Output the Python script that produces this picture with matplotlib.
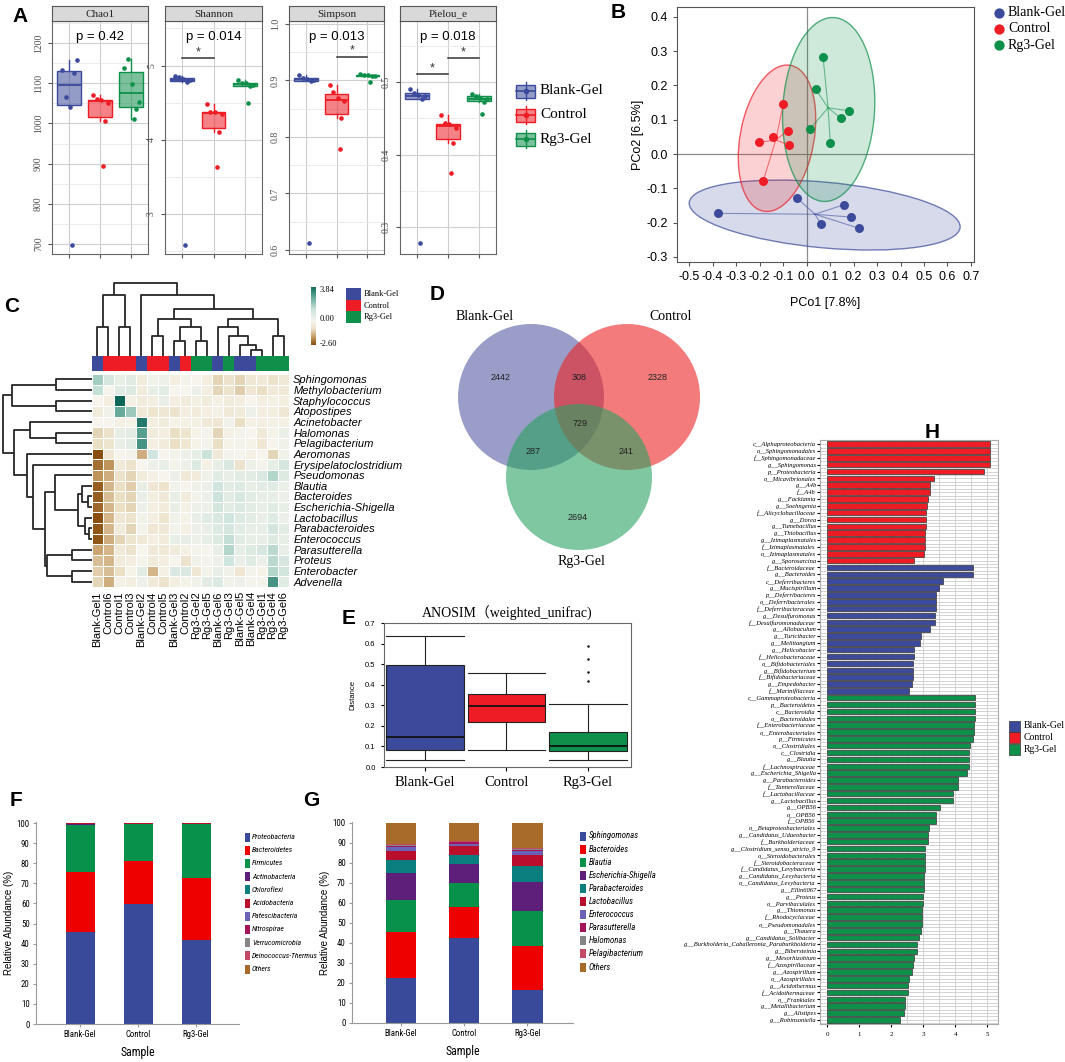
import numpy as np
import matplotlib
matplotlib.use('Agg')
import matplotlib.pyplot as plt
from matplotlib.patches import Ellipse, Circle, Rectangle
from matplotlib.colors import LinearSegmentedColormap, ListedColormap, TwoSlopeNorm, to_rgba
from matplotlib.ticker import MultipleLocator, FormatStrFormatter, FuncFormatter

plt.rcParams['font.family'] = ['Liberation Sans', 'DejaVu Sans']
SANS = ['Liberation Sans', 'DejaVu Sans']
SERIF = ['Liberation Serif', 'DejaVu Serif']
NARROW = ['Liberation Sans Narrow', 'DejaVu Sans Condensed', 'Roboto Condensed', 'Liberation Sans']

W, H = 1065, 1062
fig = plt.figure(figsize=(W / 100, H / 100), dpi=100)


def px_axes(x0, y0, x1, y1):
    return fig.add_axes([x0 / W, 1 - y1 / H, (x1 - x0) / W, (y1 - y0) / H])


groups = ['Blank-Gel', 'Control', 'Rg3-Gel']
gcol = ['#3b4a9a', '#ee1c24', '#0e8f4a']

# ---------------- data ----------------
# A: alpha diversity (6 samples per group)
alpha_names = ['Chao1', 'Shannon', 'Simpson', 'Pielou_e']
chao1 = [[1133, 1065, 1040, 1159, 1126, 698],
         [1072, 1060, 1058, 1052, 1005, 894],
         [1137, 1160, 1098, 1054, 1037, 1010]]
shannon = [[4.86, 4.84, 4.82, 4.80, 4.78, 2.58],
           [4.48, 4.38, 4.37, 4.34, 4.10, 3.63],
           [4.80, 4.77, 4.76, 4.74, 4.72, 4.50]]
simpson = [[0.910, 0.905, 0.903, 0.901, 0.899, 0.612],
           [0.891, 0.879, 0.868, 0.864, 0.833, 0.778],
           [0.912, 0.910, 0.909, 0.908, 0.907, 0.898]]
pielou = [[0.490, 0.485, 0.482, 0.480, 0.476, 0.278],
          [0.455, 0.443, 0.442, 0.437, 0.416, 0.375],
          [0.484, 0.481, 0.478, 0.476, 0.473, 0.456]]
alpha_p = ['p = 0.42', 'p = 0.014', 'p = 0.013', 'p = 0.018']
alpha_sig = [[], [(1, 2, 5.10)], [(2, 3, 0.942)], [(1, 2, 0.511), (2, 3, 0.533)]]
jitter = [-0.22, -0.1, 0.04, 0.26, 0.16, 0.1]

# B: PCoA scores and the group ellipses (centre, width, height, angle)
pcoa_x = [[-0.378, -0.040, 0.060, 0.158, 0.188, 0.225],
          [-0.099, -0.202, -0.145, -0.080, -0.076, -0.185],
          [0.070, 0.038, 0.182, 0.145, 0.013, 0.101]]
pcoa_y = [[-0.173, -0.129, -0.203, -0.148, -0.184, -0.217],
          [0.147, 0.034, 0.051, 0.068, 0.026, -0.079],
          [0.284, 0.190, 0.126, 0.105, 0.072, 0.032]]
ell_center = [(0.077, -0.178), (-0.126, 0.046), (0.094, 0.130)]
ell_width = [1.156, 0.445, 0.539]
ell_height = [0.192, 0.306, 0.390]
ell_angle = [-3.5, 67.5, 82.4]

# C: heatmap
samples = ['Blank-Gel1', 'Control6', 'Control1', 'Control3', 'Blank-Gel2', 'Control4', 'Control5',
           'Blank-Gel3', 'Control2', 'Rg3-Gel2', 'Rg3-Gel5', 'Blank-Gel6', 'Rg3-Gel3', 'Blank-Gel5',
           'Blank-Gel4', 'Rg3-Gel1', 'Rg3-Gel4', 'Rg3-Gel6']
genera = ['Sphingomonas', 'Methylobacterium', 'Staphylococcus', 'Atopostipes', 'Acinetobacter',
          'Halomonas', 'Pelagibacterium', 'Aeromonas', 'Erysipelatoclostridium', 'Pseudomonas',
          'Blautia', 'Bacteroides', 'Escherichia-Shigella', 'Lactobacillus', 'Parabacteroides',
          'Enterococcus', 'Parasutterella', 'Proteus', 'Enterobacter', 'Advenella']
heat_values = [
    [1.8, 1.0, 0.5, 0.7, -0.4, 0.2, 0.3, -0.3, 0.1, 0.0, -0.3, -1.0, -0.8, -1.0, -0.6, -0.5, -0.8, -0.5],
    [1.4, 0.0, 0.7, 0.8, -0.4, 0.5, 0.6, 0.0, 0.0, 0.3, -0.3, -1.0, -0.8, -1.1, -0.6, -0.9, -0.5, -0.5],
    [0.0, -0.3, 3.84, -0.2, -0.4, -0.3, 0.4, -0.3, -0.4, -0.2, -0.4, -0.2, -0.4, -0.3, 0.0, -0.3, -0.2, -0.3],
    [-0.4, 0.2, 2.6, 1.9, -0.5, -0.7, -0.6, -0.8, -0.3, -0.4, -0.3, -0.2, -0.5, -0.4, 0.3, -0.3, -0.3, -0.6],
    [0.0, 0.0, -0.2, -0.1, 3.5, -0.3, -0.4, -0.1, -0.2, -0.2, -0.5, -0.6, 0.2, -0.9, -0.2, -0.3, -0.2, -0.2],
    [-1.0, -0.8, 0.5, 0.6, 2.8, -0.4, -0.3, -0.9, -0.7, -0.1, 0.1, -1.0, -0.2, 0.1, 0.0, -0.5, -0.1, 0.4],
    [-0.9, -0.7, 0.4, 0.6, 3.0, -0.3, -0.4, -0.9, -0.6, -0.1, 0.1, -0.9, -0.1, 0.1, -0.1, -0.6, 0.0, 0.2],
    [-2.6, -0.6, 0.0, 0.1, -1.5, 1.2, 0.0, 0.1, 0.3, 0.5, 1.3, -0.5, 0.1, 0.0, -0.2, 0.0, -1.0, 0.2],
    [-2.2, -1.8, -0.5, -0.8, 0.0, 0.3, 0.4, 0.1, 0.3, 0.8, -0.2, 0.5, 0.9, -0.8, 0.3, 0.1, 0.5, 1.0],
    [-1.8, -1.5, -0.8, -1.0, -0.4, -0.2, 0.0, 0.3, -0.5, -0.4, 0.2, 0.7, 0.4, 0.6, 0.6, 0.9, 1.6, 0.8],
    [-2.4, -1.4, -0.9, -1.1, 0.5, -0.6, -0.8, 0.2, 0.0, 0.2, 0.3, 1.2, 0.6, 0.8, 0.5, 0.6, 0.7, 0.4],
    [-2.4, -1.3, -0.9, -1.0, 0.4, -0.3, -0.5, 0.5, -0.4, 0.1, 0.3, 1.3, 0.6, 1.0, 0.6, 0.5, 0.5, 0.3],
    [-2.3, -1.4, -0.9, -1.0, 0.3, -0.3, -0.4, 0.4, -0.2, 0.3, 0.3, 1.1, 0.6, 0.9, 0.6, 0.5, 0.7, 0.5],
    [-2.6, -1.4, -0.6, -0.8, 0.2, -0.3, -0.7, 0.2, -0.1, 0.4, 0.6, 0.9, 1.2, 0.8, 0.6, 0.4, 0.7, 0.3],
    [-2.5, -1.4, -0.4, -1.0, 0.1, -0.6, -0.5, 0.1, -0.2, 0.3, 0.4, 0.8, 1.0, 0.6, 0.5, 0.5, 1.1, 0.6],
    [-2.5, -1.5, -1.0, -0.7, -0.5, -0.3, -0.4, 0.5, 0.4, 0.3, 0.5, 0.8, 1.4, 0.6, 0.5, 0.4, 0.8, 0.5],
    [-1.6, -1.4, -0.5, -0.8, 0.0, -0.5, -0.5, -0.4, -0.2, 0.1, 0.0, 0.5, 1.6, 0.5, 0.8, 1.0, 1.5, 0.4],
    [-1.3, -1.4, -0.4, -0.3, 0.1, -0.4, -0.3, 0.0, -0.8, 0.2, 0.1, 0.3, 1.2, 0.4, 0.7, 0.3, 1.5, 1.0],
    [-1.1, -1.3, -0.9, -0.1, 0.6, -1.4, -0.2, 0.9, 0.9, -0.6, 0.1, 0.5, 0.2, -0.6, 0.1, -0.1, 1.6, 1.1],
    [-1.0, -1.5, -0.2, -0.3, 0.3, -0.5, -0.8, -0.3, -0.1, 0.2, 0.6, 0.8, 0.2, 0.3, 0.1, 0.1, 3.0, 0.7],
]
# dendrograms: (left, right, height), leaves are column / row indices
col_tree = (((0, 1, 0.39), (2, 3, 0.39), 0.83),
            (4, (((5, 6, 0.27), ((7, 8, 0.21), (9, 10, 0.21), 0.39), 0.50),
                 ((11, (12, (13, (14, 15, 0.08), 0.15), 0.27), 0.39), (16, 17, 0.27), 0.50), 0.64), 0.83),
            1.0)
row_tree = (((0, 1, 0.40), (2, 3, 0.40), 0.90),
            ((4, (5, 6, 0.40), 0.70),
             (7, (8, ((9, ((10, (11, 12, 0.045), 0.11), (13, (14, 15, 0.035), 0.08), 0.16), 0.42),
                      ((16, 17, 0.23), (18, 19, 0.23), 0.51), 0.53), 0.66), 0.73), 0.88),
            1.0)

# D: Venn counts
venn_counts = {'Blank-Gel': 2442, 'Control': 2328, 'Rg3-Gel': 2694,
               'Blank-Gel&Control': 308, 'Blank-Gel&Rg3-Gel': 287, 'Control&Rg3-Gel': 241, 'all': 729}

# E: ANOSIM box statistics
anosim_q = {'Blank-Gel': [0.036, 0.085, 0.147, 0.494, 0.638],
            'Control': [0.085, 0.221, 0.295, 0.354, 0.458],
            'Rg3-Gel': [0.033, 0.079, 0.103, 0.169, 0.306]}
anosim_fliers = {'Blank-Gel': [], 'Control': [], 'Rg3-Gel': [0.586, 0.524, 0.462, 0.417]}

# F: phylum composition (%)
phyla = ['Proteobacteria', 'Bacteroidetes', 'Firmicutes', 'Actinobacteria', 'Chloroflexi', 'Acidobacteria',
         'Patescibacteria', 'Nitrospirae', 'Verrucomicrobia', 'Deinococcus-Thermus', 'Others']
phyla_vals = [[46.0, 59.5, 42.0], [29.5, 21.5, 30.7], [23.7, 18.3, 26.6], [0.5, 0.4, 0.4],
              [0.05, 0.04, 0.05], [0.04, 0.03, 0.04], [0.08, 0.05, 0.08], [0.02, 0.02, 0.02],
              [0.02, 0.02, 0.02], [0.01, 0.01, 0.01], [0.08, 0.13, 0.08]]
# G: genus composition (%)
gen_g = ['Sphingomonas', 'Bacteroides', 'Blautia', 'Escherichia-Shigella', 'Parabacteroides', 'Lactobacillus',
         'Enterococcus', 'Parasutterella', 'Halomonas', 'Pelagibacterium', 'Others']
gen_vals = [[22.6, 42.5, 16.3], [22.7, 15.5, 22.3], [16.2, 11.8, 17.5], [13.6, 9.5, 14.4], [6.3, 4.6, 7.8],
            [4.8, 4.5, 5.9], [1.6, 1.2, 1.6], [0.7, 0.7, 0.8], [0.5, 0.3, 0.4], [0.5, 0.4, 0.4],
            [10.5, 9.0, 12.6]]
stack_cols = ['#3a4a9a', '#ee0000', '#08914a', '#5e1f7a', '#0b7f80', '#ba0f2c', '#6a62b4',
              '#a3145a', '#858585', '#c24a66', '#a86b2a']

# H: LEfSe LDA scores
red_labels = ['c__Alphaproteobacteria', 'o__Sphingomonadales', 'f__Sphingomonadaceae', 'g__Sphingomonas',
              'p__Proteobacteria', 'o__Micavibrionales', 'g__A4b', 'f__A4b', 'g__Facklamia', 'g__Soehngenia',
              'f__Alicyclobacillaceae', 'g__Dorea', 'g__Tumebacillus', 'g__Thiobacillus',
              'g__Izimaplasmatales', 'f__Izimaplasmatales', 'o__Izimaplasmatales', 'g__Sporosarcina']
red_lda = [5.08, 5.08, 5.08, 5.08, 4.89, 3.33, 3.20, 3.20, 3.15, 3.12, 3.08, 3.08, 3.07, 3.06, 3.04,
           3.04, 3.02, 2.70]
blue_labels = ['f__Bacteroidaceae', 'g__Bacteroides', 'c__Deferribacteres', 'g__Mucispirillum',
               'p__Deferribacteres', 'o__Deferribacterales', 'f__Deferribacteraceae', 'g__Desulfuromonas',
               'f__Desulfuromonadaceae', 'g__Allobaculum', 'g__Turicibacter', 'g__Melittangium',
               'g__Helicobacter', 'f__Helicobacteraceae', 'o__Bifidobacteriales', 'g__Bifidobacterium',
               'f__Bifidobacteriaceae', 'g__Empedobacter', 'f__Marinifilaceae']
blue_lda = [4.54, 4.54, 3.62, 3.48, 3.40, 3.39, 3.39, 3.37, 3.35, 3.20, 2.91, 2.88, 2.71, 2.71, 2.66,
            2.66, 2.66, 2.63, 2.54]
green_labels = ['c__Gammaproteobacteria', 'p__Bacteroidetes', 'c__Bacteroidia', 'o__Bacteroidales',
                'f__Enterobacteriaceae', 'o__Enterobacteriales', 'p__Firmicutes', 'o__Clostridiales',
                'c__Clostridia', 'g__Blautia', 'f__Lachnospiraceae', 'g__Escherichia_Shigella',
                'g__Parabacteroides', 'f__Tannerellaceae', 'f__Lactobacillaceae', 'g__Lactobacillus',
                'g__OPB56', 'o__OPB56', 'f__OPB56', 'o__Betaproteobacteriales', 'g__Candidatus_Udaeobacter',
                'f__Burkholderiaceae', 'g__Clostridium_sensu_stricto_9', 'o__Steroidobacterales',
                'f__Steroidobacteraceae', 'f__Candidatus_Levybacteria', 'g__Candidatus_Levybacteria',
                'o__Candidatus_Levybacteria', 'g__Ellin6067', 'g__Proteus', 'o__Parvibaculales',
                'g__Thiomonas', 'f__Rhodocyclaceae', 'o__Pseudomonadales', 'g__Thauera',
                'g__Candidatus_Solibacter', 'g__Burkholderia_Caballeronia_Paraburkholderia',
                'g__Bibersteinia', 'g__Mesorhizobium', 'f__Azospirillaceae', 'g__Azospirillum',
                'o__Azospirillales', 'g__Acidothermus', 'f__Acidothermaceae', 'o__Frankiales',
                'g__Metallibacterium', 'g__Alistipes', 'g__Robinsoniella']
green_lda = [4.62, 4.62, 4.62, 4.62, 4.58, 4.58, 4.56, 4.45, 4.43, 4.43, 4.43, 4.37, 4.08, 4.08, 3.91,
             3.91, 3.52, 3.39, 3.39, 3.16, 3.15, 3.14, 3.06, 3.05, 3.05, 3.04, 3.03, 3.02, 3.01, 2.98,
             2.98, 2.97, 2.96, 2.95, 2.93, 2.87, 2.80, 2.79, 2.70, 2.66, 2.63, 2.55, 2.53, 2.53, 2.43,
             2.42, 2.40, 2.27]

# ---------------- A ----------------
alpha_data = [chao1, shannon, simpson, pielou]
alpha_px = [(52, 148), (165, 262), (289, 384), (400, 496)]
alpha_ylim = [(675, 1255), (2.46, 5.6), (0.593, 1.005), (0.263, 0.584)]
alpha_major = [100, 1, 0.1, 0.1]
alpha_fmt = ['%d', '%d', '%.1f', '%.1f']
for k in range(4):
    x0, x1 = alpha_px[k]
    ax = px_axes(x0, 21, x1, 254)
    st = px_axes(x0, 6, x1, 21)
    st.set_facecolor('#d9d9d9')
    st.set_xticks([]); st.set_yticks([])
    for s in st.spines.values():
        s.set_color('#555555'); s.set_linewidth(0.8)
    st.text(0.5, 0.45, alpha_names[k], ha='center', va='center', fontsize=8, family=SERIF, color='#222222')

    vals = alpha_data[k]
    bp = ax.boxplot(vals, positions=[1, 2, 3], widths=0.76, patch_artist=True, showfliers=False,
                    whis=1.5, zorder=2)
    for i, c in enumerate(gcol):
        bp['boxes'][i].set(facecolor=to_rgba(c, 0.55), edgecolor=c, linewidth=1)
        bp['medians'][i].set(color=c, linewidth=1.3)
        for w in bp['whiskers'][2 * i:2 * i + 2]:
            w.set(color=c, linewidth=1)
        for cp in bp['caps'][2 * i:2 * i + 2]:
            cp.set_visible(False)
        ax.scatter(np.full(len(vals[i]), i + 1.0) + np.array(jitter), vals[i], s=11, color=c, zorder=3,
                   linewidths=0)
    for a, b, y in alpha_sig[k]:
        ax.plot([a, b], [y, y], color='#333333', lw=1.1)
        ax.text((a + b) / 2, y, '*', ha='center', va='bottom', fontsize=9, color='#333333')
    ax.text(0.5, 0.93, alpha_p[k], transform=ax.transAxes, ha='center', va='center', fontsize=9.5)
    ax.set_xlim(0.45, 3.55)
    ax.set_ylim(*alpha_ylim[k])
    ax.set_xticks([1, 2, 3]); ax.set_xticklabels([])
    ax.yaxis.set_major_locator(MultipleLocator(alpha_major[k]))
    ax.yaxis.set_minor_locator(MultipleLocator(alpha_major[k] / 2))
    ax.yaxis.set_major_formatter(FormatStrFormatter(alpha_fmt[k]))
    ax.grid(which='major', color='#cfcfcf', lw=0.8, zorder=0)
    ax.grid(which='minor', axis='y', color='#e8e8e8', lw=0.6, zorder=0)
    ax.set_axisbelow(True)
    ax.tick_params(axis='y', which='minor', length=0)
    ax.tick_params(axis='both', which='major', length=3, color='#555555', labelsize=7, labelcolor='#4d4d4d')
    for lab in ax.get_yticklabels():
        lab.set_rotation(90); lab.set_va('center'); lab.set_family(SERIF)
    for s in ax.spines.values():
        s.set_color('#666666'); s.set_linewidth(0.8)

# ---------------- B ----------------
axb = px_axes(677, 7, 974, 262)
axb.axhline(0, color='#8c8c8c', lw=0.9, zorder=1)
axb.axvline(0, color='#8c8c8c', lw=0.9, zorder=1)
for i, c in enumerate(gcol):
    xs, ys = np.array(pcoa_x[i]), np.array(pcoa_y[i])
    cx, cy = xs.mean(), ys.mean()
    axb.add_patch(Ellipse(ell_center[i], ell_width[i], ell_height[i], angle=ell_angle[i],
                          facecolor=to_rgba(c, 0.2), edgecolor=to_rgba(c, 0.7), lw=1, zorder=2))
    for x, y in zip(xs, ys):
        axb.plot([cx, x], [cy, y], color=to_rgba(c, 0.55), lw=0.8, zorder=3)
    axb.scatter(xs, ys, s=42, color=c, zorder=4, linewidths=0)
axb.set_xlim(-0.552, 0.713)
axb.set_ylim(-0.315, 0.429)
axb.set_xticks(np.arange(-5, 8) / 10)
axb.set_yticks(np.arange(-3, 5) / 10)
zero_fmt = FuncFormatter(lambda v, p: '0.0' if abs(v) < 1e-9 else f'{v:.1f}')
axb.xaxis.set_major_formatter(zero_fmt)
axb.yaxis.set_major_formatter(zero_fmt)
axb.tick_params(labelsize=9, length=3, color='#555555')
axb.set_xlabel('PCo1 [7.8%]', fontsize=9, labelpad=10)
axb.set_ylabel('PCo2 [6.5%]', fontsize=9, labelpad=2)
for s in axb.spines.values():
    s.set_color('#555555')

# ---------------- C ----------------
heat = np.array(heat_values)
hnorm = TwoSlopeNorm(vmin=-2.60, vcenter=0.0, vmax=3.84)
hcmap = LinearSegmentedColormap.from_list('hm', ['#8a4f0f', '#c49a62', '#ece1c8', '#f6f4ec',
                                                 '#cde4dc', '#69ad9c', '#0b6657'])
axh = px_axes(92, 374, 289, 587)
axh.pcolormesh(heat, cmap=hcmap, norm=hnorm, edgecolors='white', linewidth=0.7)
axh.set_xlim(0, len(samples)); axh.set_ylim(len(genera), 0)
axh.set_xticks(np.arange(len(samples)) + 0.5)
axh.set_xticklabels(samples, rotation=90, fontsize=8, va='top')
axh.set_yticks(np.arange(len(genera)) + 0.5)
axh.set_yticklabels(genera, fontsize=8, style='italic')
axh.yaxis.tick_right()
axh.tick_params(length=0, pad=3)
for s in axh.spines.values():
    s.set_visible(False)

sample_group = [groups.index(s.rstrip('0123456789')) for s in samples]
axa = px_axes(92, 356, 289, 371)
axa.pcolormesh(np.array([sample_group]), cmap=ListedColormap(gcol), vmin=-0.5, vmax=2.5)
axa.set_xlim(0, len(samples)); axa.axis('off')


def draw_tree(ax, node, horizontal):
    if isinstance(node, int):
        return node + 0.5, 0.0
    pl, hl = draw_tree(ax, node[0], horizontal)
    pr, hr = draw_tree(ax, node[1], horizontal)
    h = node[2]
    xs, ys = [pl, pl, pr, pr], [hl, h, h, hr]
    if horizontal:
        ax.plot(ys, xs, color='#262626', lw=1.3, solid_capstyle='butt')
    else:
        ax.plot(xs, ys, color='#262626', lw=1.3, solid_capstyle='butt')
    return (pl + pr) / 2, h


axcd = px_axes(92, 282, 289, 356)
draw_tree(axcd, col_tree, False)
axcd.set_xlim(0, len(samples)); axcd.set_ylim(0, 1.01); axcd.axis('off')
axrd = px_axes(2, 374, 92, 587)
draw_tree(axrd, row_tree, True)
axrd.set_ylim(len(genera), 0); axrd.set_xlim(1.01, 0); axrd.axis('off')

axcb = px_axes(311, 287, 316, 345)
axcb.imshow(np.linspace(3.84, -2.60, 200)[:, None], aspect='auto', cmap=hcmap, norm=hnorm)
axcb.axis('off')

# ---------------- E ----------------
axe = px_axes(384, 623, 631, 767)
stats = [dict(label=g, whislo=anosim_q[g][0], q1=anosim_q[g][1], med=anosim_q[g][2], q3=anosim_q[g][3],
              whishi=anosim_q[g][4], fliers=anosim_fliers[g]) for g in groups]
eb = axe.bxp(stats, positions=[1, 2, 3], widths=0.95, capwidths=0.95, patch_artist=True,
             boxprops=dict(edgecolor='#222222', linewidth=0.8),
             whiskerprops=dict(color='#222222', linewidth=0.8),
             capprops=dict(color='#222222', linewidth=0.8),
             medianprops=dict(color='#111111', linewidth=1.3),
             flierprops=dict(marker='o', markersize=1.8, markerfacecolor='#111111', markeredgecolor='none'))
for bx, c in zip(eb['boxes'], gcol):
    bx.set_facecolor(c)
axe.set_xlim(0.497, 3.53); axe.set_ylim(0, 0.7)
axe.set_yticks(np.arange(0, 8) / 10)
axe.yaxis.set_major_formatter(FormatStrFormatter('%.1f'))
axe.tick_params(axis='y', labelsize=5.5, length=2.5)
axe.tick_params(axis='x', labelsize=10.5, length=3)
for lab in axe.get_xticklabels():
    lab.set_family(SERIF)
axe.set_ylabel('Distance', fontsize=5.5, labelpad=6)
axe.set_title('ANOSIM\uff08weighted_unifrac)', fontsize=10, family=SERIF + ['Noto Sans CJK SC'], pad=4)
for s in axe.spines.values():
    s.set_color('#666666'); s.set_linewidth(0.8)


# ---------------- F, G ----------------
def stacked(ax, vals, width):
    bottom = np.zeros(3)
    for v, c in zip(vals, stack_cols):
        ax.bar(np.arange(3), v, width, bottom=bottom, color=c, linewidth=0)
        bottom = bottom + np.array(v)
    ax.set_ylim(0, 100.5)
    ax.set_yticks(np.arange(0, 101, 10))
    ax.set_xticks(np.arange(3)); ax.set_xticklabels(groups)
    for s in ['top', 'right']:
        ax.spines[s].set_visible(False)
    for s in ['left', 'bottom']:
        ax.spines[s].set_color('#9a9a9a')
    ax.tick_params(labelsize=6.3, length=2.5, color='#9a9a9a', pad=2)
    for lab in ax.get_xticklabels() + ax.get_yticklabels():
        lab.set_family(NARROW)
    ax.set_ylabel('Relative Abundance (%)', fontsize=7, labelpad=2)
    ax.set_xlabel('Sample', fontsize=8.5, family=NARROW, labelpad=5)


axf = px_axes(36, 822, 239, 1024)
stacked(axf, phyla_vals, 0.5)
axf.set_xlim(-0.76, 2.74)
axg = px_axes(352, 822, 573, 1023)
stacked(axg, gen_vals, 0.48)
axg.set_xlim(-0.77, 2.72)

# ---------------- H ----------------
h_labels = red_labels + blue_labels + green_labels
h_vals = red_lda + blue_lda + green_lda
h_cols = [gcol[1]] * len(red_lda) + [gcol[0]] * len(blue_lda) + [gcol[2]] * len(green_lda)
axl = px_axes(820, 440, 998, 1024)
n = len(h_vals)
axl.barh(np.arange(n), h_vals, height=0.8, color=h_cols, edgecolor='#333333', linewidth=0.5, zorder=3)
axl.set_ylim(n - 0.4, -0.6)
axl.set_xlim(-0.23, 5.33)
axl.set_yticks(np.arange(n)); axl.set_yticklabels(h_labels)
axl.set_yticks(np.arange(n) + 0.5, minor=True)
axl.set_xticks(np.arange(0, 6, 1))
axl.xaxis.set_minor_locator(MultipleLocator(0.5))
axl.grid(which='both', color='#cccccc', lw=0.6, zorder=0)
axl.tick_params(axis='y', which='major', labelsize=4.7, length=2, pad=1)
axl.tick_params(axis='y', which='minor', length=0)
axl.tick_params(axis='x', which='major', labelsize=5, length=2)
axl.tick_params(axis='x', which='minor', length=0)
for lab in axl.get_yticklabels():
    lab.set_family(SERIF); lab.set_style('italic')
for lab in axl.get_xticklabels():
    lab.set_family(SERIF)
for s in axl.spines.values():
    s.set_color('#aaaaaa')

# ---------------- overlay: letters, legends, Venn ----------------
ov = fig.add_axes([0, 0, 1, 1], facecolor='none')
ov.set_xlim(0, W); ov.set_ylim(H, 0); ov.axis('off')

for lt, x, y in [('A', 20, 16), ('B', 618, 13), ('C', 12, 306), ('D', 437, 294), ('E', 349, 618),
                 ('F', 16, 800), ('G', 311, 800), ('H', 932, 432)]:
    ov.text(x, y, lt, fontsize=15, fontweight='bold', ha='center', va='center')

# A legend
for i, (g, c) in enumerate(zip(groups, gcol)):
    y = 91 + i * 24
    ov.plot([525.5, 525.5], [y - 9, y + 9], color=c, lw=1)
    ov.add_patch(Rectangle((516, y - 6.5), 19, 13, facecolor=to_rgba(c, 0.55), edgecolor=c, lw=1))
    ov.plot([516, 535], [y, y], color=c, lw=1.2)
    ov.scatter([525.5], [y], s=9, color=c, zorder=5)
    ov.text(540, y, g, fontsize=11, family=SERIF, va='center')

# B legend
for i, (g, c) in enumerate(zip(groups, gcol)):
    y = 13 + i * 16
    ov.scatter([999], [y], s=55, color=c, linewidths=0)
    ov.text(1008, y, g, fontsize=10, family=SERIF, va='center')

# C colour key and group key
for v, y in [('3.84', 290), ('0.00', 319), ('-2.60', 344)]:
    ov.text(320, y, v, fontsize=6, family=SERIF, va='center')
for i, (g, c) in enumerate(zip(groups, gcol)):
    ov.add_patch(Rectangle((346, 288 + i * 11.7), 15, 11.7, facecolor=c, edgecolor='none'))
    ov.text(364, 294 + i * 11.7, g, fontsize=6, family=SERIF, va='center')

# D Venn
centers = {'Blank-Gel': (531, 397), 'Control': (627, 397), 'Rg3-Gel': (579, 477)}
venn_fill = {'Blank-Gel': '#575ca3', 'Control': '#ed2323', 'Rg3-Gel': '#28a261'}
for g in groups:
    ov.add_patch(Circle(centers[g], 73, facecolor=venn_fill[g], alpha=0.6, edgecolor='none'))
for key, (x, y) in [('Blank-Gel', (501, 378)), ('Blank-Gel&Control', (579, 378)), ('Control', (658, 378)),
                    ('all', (580, 423)), ('Blank-Gel&Rg3-Gel', (533, 451)), ('Control&Rg3-Gel', (626, 451)),
                    ('Rg3-Gel', (578, 518))]:
    ov.text(x, y, str(venn_counts[key]), fontsize=6.5, ha='center', va='center', color='#222222')
for g, (x, y) in [('Blank-Gel', (485, 317)), ('Control', (671, 317)), ('Rg3-Gel', (581, 562))]:
    ov.text(x, y, g, fontsize=10, family=SERIF, ha='center', va='center')

# F and G legends
for i, (name, c) in enumerate(zip(phyla, stack_cols)):
    y = 837 + i * 13.2
    ov.add_patch(Rectangle((245, y - 4.5), 5, 9, facecolor=c, edgecolor='none'))
    ov.text(252, y, name, fontsize=5.6, family=NARROW, style='italic', va='center')
for i, (name, c) in enumerate(zip(gen_g, stack_cols)):
    y = 836 + i * 13.1
    ov.add_patch(Rectangle((580, y - 4.5), 6, 9, facecolor=c, edgecolor='none'))
    ov.text(589, y, name, fontsize=6.3, family=NARROW, style='italic', va='center')

# H legend
for i, (g, c) in enumerate(zip(groups, gcol)):
    y = 726 + i * 11.5
    ov.add_patch(Rectangle((1009, y - 5.5), 11, 11, facecolor=c, edgecolor='#333333', lw=0.5))
    ov.text(1024, y, g, fontsize=7, family=SERIF, va='center')

fig.savefig('out.png', dpi=100)
